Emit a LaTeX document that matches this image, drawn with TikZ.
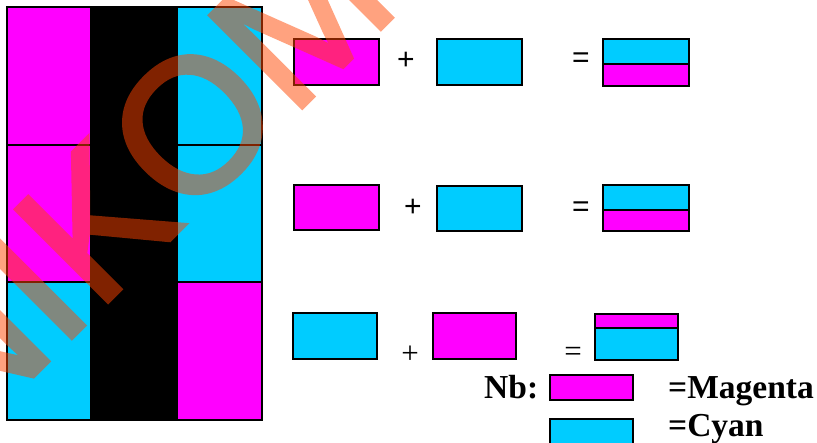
\documentclass[tikz,border=0pt]{standalone}
\usepackage{fontspec}
\setmainfont{Liberation Serif}
\newfontfamily\arialfont{Liberation Sans}
\newfontfamily\wmfont[FakeBold=2]{Liberation Sans}
\definecolor{mag}{RGB}{255,0,255}
\definecolor{cya}{RGB}{0,204,255}
\definecolor{wmark}{RGB}{255,69,0}
\tikzset{
  cellline/.style={line width=1.3pt},
  swatch/.style={draw=black, line width=1.5pt},
  symsans/.style={inner sep=0pt, font=\arialfont\fontsize{30}{32}\selectfont},
  symserif/.style={inner sep=0pt, font=\fontsize{31}{33}\selectfont},
  legendtxt/.style={inner sep=0pt, anchor=base west, font=\bfseries\fontsize{33.5}{36}\selectfont},
  wm/.style={inner sep=0pt, text=wmark, rotate=45,
    font=\wmfont\fontsize{190}{190}\selectfont}
}
\begin{document}
\begin{tikzpicture}[x=1pt,y=-1pt]
\useasboundingbox (0,0) rectangle (817,443);

% colour grid
\fill[mag] (7,7) rectangle (91,145);
\fill[mag] (7,145) rectangle (91,282);
\fill[cya] (7,282) rectangle (91,420);
\fill[black] (91,7) rectangle (177,420);
\fill[cya] (177,7) rectangle (262,145);
\fill[cya] (177,145) rectangle (262,282);
\fill[mag] (177,282) rectangle (262,420);
\draw[cellline] (7,7) rectangle (262,420);
\draw[cellline] (7,145) -- (262,145) (7,282) -- (262,282);
\draw[cellline] (91,7) -- (91,420) (177,7) -- (177,420);

% first row: magenta + cyan
\filldraw[swatch, fill=mag] (294,39) rectangle (379,85);
\node[symsans] (p1) at (406,61) {+};
\filldraw[swatch, fill=cya] (437,39) rectangle (522,85);
\node[symsans] (e1) at (581,60) {=};
\fill[cya] (603,39) rectangle (689,64);
\fill[mag] (603,64) rectangle (689,86);
\draw[swatch] (603,39) rectangle (689,86) (603,64) -- (689,64);

% second row: magenta + cyan
\filldraw[swatch, fill=mag] (294,185) rectangle (379,230);
\node[symsans] (p2) at (413,208) {+};
\filldraw[swatch, fill=cya] (437,186) rectangle (522,231);
\node[symsans] (e2) at (581,209) {=};
\fill[cya] (603,185) rectangle (689,210);
\fill[mag] (603,210) rectangle (689,231);
\draw[swatch] (603,185) rectangle (689,231) (603,210) -- (689,210);

% third row: cyan + magenta
\filldraw[swatch, fill=cya] (293,313) rectangle (377,359);
\node[symserif] (p3) at (410,355) {+};
\filldraw[swatch, fill=mag] (433,313) rectangle (516,359);
\node[symserif] (e3) at (573,354) {=};
\fill[mag] (595,314) rectangle (678,328);
\fill[cya] (595,328) rectangle (678,360);
\draw[swatch] (595,314) rectangle (678,360) (595,328) -- (678,328);

% legend
\node[legendtxt] (nb) at (484,399) {Nb:};
\filldraw[swatch, fill=mag] (550,375) rectangle (633,400);
\node[legendtxt] (lm) at (668,399) {=Magenta};
\filldraw[swatch, fill=cya] (550,419) rectangle (633,452);
\node[legendtxt] (lc) at (668,437) {=Cyan};

% watermark, half transparent as a whole
\begin{scope}[transparency group, opacity=0.5]
  \node[wm, anchor=base west] (wk) at (97,313) {KOM};
  \node[wm, anchor=base east] (wu) at (97,313) {UNI};
\end{scope}
\end{tikzpicture}
\end{document}
